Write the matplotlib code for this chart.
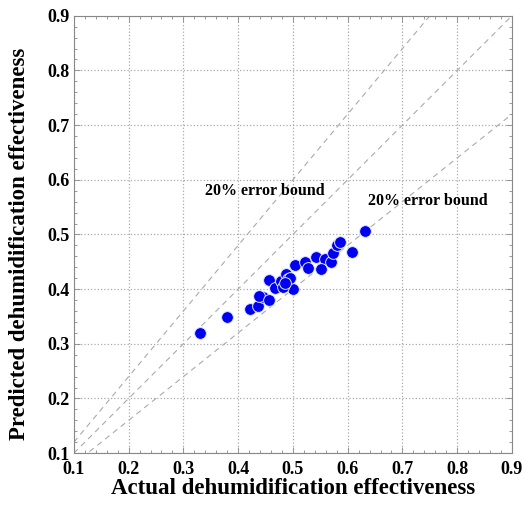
import numpy as np
import matplotlib
matplotlib.use("Agg")
import matplotlib.pyplot as plt
from matplotlib.ticker import MultipleLocator

plt.rcParams['font.family'] = ['Liberation Serif', 'DejaVu Serif']
plt.rcParams['font.weight'] = 'bold'

# actual vs predicted dehumidification effectiveness
actual = [0.330, 0.379, 0.421, 0.437, 0.445, 0.438, 0.457, 0.457, 0.467, 0.479,
          0.487, 0.491, 0.501, 0.482, 0.504, 0.522, 0.528, 0.543, 0.558, 0.552,
          0.569, 0.573, 0.580, 0.586, 0.607, 0.632, 0.495, 0.485]
predicted = [0.320, 0.349, 0.363, 0.369, 0.386, 0.388, 0.381, 0.417, 0.402, 0.414,
             0.428, 0.418, 0.400, 0.403, 0.444, 0.450, 0.438, 0.458, 0.455, 0.436,
             0.449, 0.466, 0.481, 0.486, 0.468, 0.507, 0.420, 0.412]

bound_factors = [1.2, 1.0, 0.8]
ticks = [0.1, 0.2, 0.3, 0.4, 0.5, 0.6, 0.7, 0.8, 0.9]

fig = plt.figure(figsize=(5.24, 5.08), dpi=100)
ax = fig.add_axes([0.141, 0.108, 0.836, 0.861])

xs = np.array([0.1, 0.9])
for k in bound_factors:
    ax.plot(xs, k * xs, color='#aaaaaa', lw=0.8, ls=(0, (5, 4)), zorder=1)

ax.scatter(actual, predicted, s=72, color='#0000f0', edgecolors='#dde4ff',
           linewidths=0.7, zorder=3)

ax.text(0.339, 0.580, '20% error bound', fontsize=11.5, fontweight='bold',
        va='center', ha='left')
ax.text(0.637, 0.561, '20% error bound', fontsize=11.5, fontweight='bold',
        va='center', ha='left')

ax.set_xlim(0.1, 0.9)
ax.set_ylim(0.1, 0.9)
ax.set_xticks(ticks)
ax.set_yticks(ticks)
ax.set_xticklabels([f'{t:.1f}' for t in ticks])
ax.set_yticklabels([f'{t:.1f}' for t in ticks])
ax.xaxis.set_minor_locator(MultipleLocator(0.02))
ax.yaxis.set_minor_locator(MultipleLocator(0.02))
ax.tick_params(which='both', direction='in', top=True, right=True,
               labelsize=13)
ax.tick_params(axis='x', pad=6)
ax.tick_params(axis='y', pad=3)
ax.tick_params(which='major', length=4, width=0.6, color='#888888')
ax.tick_params(which='minor', length=2.5, width=0.6, color='#888888')
for s in ax.spines.values():
    s.set_color('#888888')
    s.set_linewidth(0.8)
ax.grid(True, which='major', color='#aaaaaa', ls=':', lw=0.9)

ax.set_xlabel('Actual dehumidification effectiveness', fontsize=16.5,
              fontweight='bold', labelpad=0)
ax.set_ylabel('Predicted dehumidification effectiveness', fontsize=16.5,
              fontweight='bold')
ax.yaxis.set_label_coords(-0.10, 0.479)

fig.savefig('out.png', dpi=100)
